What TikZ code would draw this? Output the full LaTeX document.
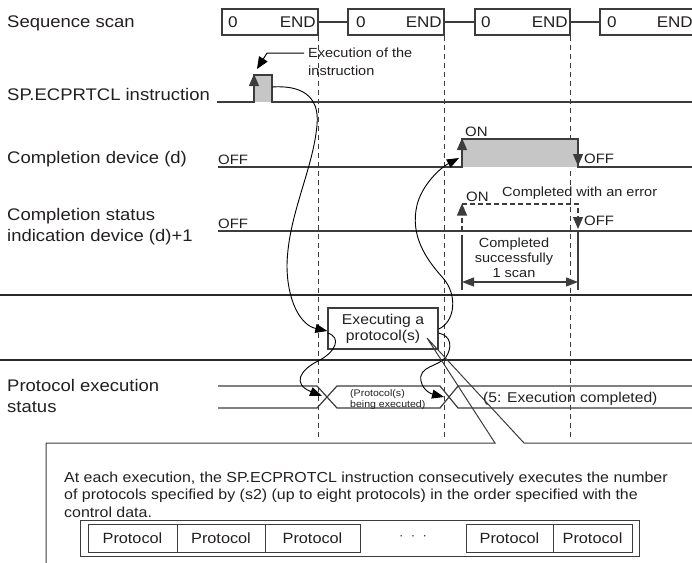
\documentclass[tikz,border=0pt]{standalone}
\usepackage{fontspec}
\setmainfont{Liberation Sans}[FakeStretch=1.1]
\usetikzlibrary{arrows.meta}
\definecolor{txt}{HTML}{231F20}
\definecolor{lin}{HTML}{3C3C3C}
\definecolor{sepc}{HTML}{2A2A2A}
\definecolor{pulsec}{HTML}{C6C6C6}
\begin{document}
\begin{tikzpicture}[x=1pt,y=-1pt,
  biglab/.style={font=\fontsize{16.8}{21}\selectfont, inner sep=0pt, anchor=base west, align=left, text=txt},
  scantxt/.style={font=\fontsize{15.5}{18}\selectfont, inner sep=0pt, text=txt},
  midlab/.style={font=\fontsize{13.6}{16}\selectfont, inner sep=0pt, anchor=base west, text=txt},
  sig/.style={draw=lin, line width=1.2pt},
  sepline/.style={draw=sepc, line width=2.6pt},
  vdash/.style={draw=lin, line width=0.9pt, dash pattern=on 5pt off 4pt},
  pdash/.style={draw=lin, line width=1.1pt, dash pattern=on 5pt off 3pt},
  scanbox/.style={draw=lin, line width=1.2pt, minimum height=26pt, inner sep=0pt},
  tipup/.style={-{Triangle[length=12pt,width=10pt]}},
  flow/.style={draw=black, line width=0.9pt, -{Triangle[length=12pt,width=9pt]}},
  cellbox/.style={draw=lin, line width=0.9pt, minimum height=28pt, inner sep=0pt, font=\fontsize{14.8}{17}\selectfont, text=txt},
]
\useasboundingbox (0,0) rectangle (692,562);
\clip (0,0) rectangle (692,562);

% ---- left labels (base = baseline of the last line)
\node[biglab] (lseq) at (7,27) {Sequence scan};
\node[biglab] (lsp) at (7,100) {SP.ECPRTCL instruction};
\node[biglab] (lcd) at (7,163) {Completion device (d)};
\node[biglab] (lcs) at (7,241) {Completion status\\indication device (d)+1};
\node[biglab] (lpe) at (7,412) {Protocol execution\\status};

% ---- sequence scan boxes
\node[scanbox, minimum width=96pt] (s1) at (270,22) {};
\node[scanbox, minimum width=96pt] (s2) at (396,22) {};
\node[scanbox, minimum width=95pt] (s3) at (522.5,22) {};
\node[scanbox, minimum width=100pt] (s4) at (650,22) {};
\node[scantxt, anchor=base west] (s1z) at (228,27.5) {0};
\node[scantxt, anchor=base east] (s1e) at (316,27.5) {END};
\node[scantxt, anchor=base west] (s2z) at (356,27.5) {0};
\node[scantxt, anchor=base east] (s2e) at (442,27.5) {END};
\node[scantxt, anchor=base west] (s3z) at (481,27.5) {0};
\node[scantxt, anchor=base east] (s3e) at (568,27.5) {END};
\node[scantxt, anchor=base west] (s4z) at (607,27.5) {0};
\node[scantxt, anchor=base east] (s4e) at (693,27.5) {END};
\draw[sig] (s1.east) -- (s2.west);
\draw[sig] (s2.east) -- (s3.west);
\draw[sig] (s3.east) -- (s4.west);

% ---- dashed scan boundaries
\coordinate (dend) at (0,438);
\draw[vdash] (s1.south east) -- (s1.south east |- dend);
\draw[vdash] (s2.south east) -- (s2.south east |- dend);
\draw[vdash] (s3.south east) -- (s3.south east |- dend);

% ---- SP.ECPRTCL instruction
\coordinate (p0) at (217,102);
\coordinate (p1) at (254,102);
\coordinate (p2) at (254,75);
\coordinate (p3) at (272,75);
\coordinate (p4) at (272,102);
\coordinate (p5) at (692,102);
\fill[pulsec] (p1) rectangle (p3);
\draw[sig] (p0) -- (p1) -- (p2) -- (p3) -- (p4) -- (p5);
\draw[sig, tipup] (p1) -- ([yshift=1pt]p2);
\node[midlab, align=left, font=\fontsize{13.2}{18}\selectfont] (exlab) at (308,75) {Execution of the\\instruction};
\coordinate (ex1) at (304,53);
\coordinate (ex2) at (267,53);
\coordinate (ex3) at (257,69);
\draw[draw=black, line width=1pt, -{Triangle[length=12pt,width=10pt]}] (ex1) -- (ex2) -- (ex3);

% ---- Completion device
\coordinate (c0) at (218,167);
\coordinate (c1) at (462,167);
\coordinate (c2) at (462,139);
\coordinate (c3) at (578,139);
\coordinate (c4) at (578,167);
\coordinate (c5) at (692,167);
\fill[pulsec] (c1) rectangle (c3);
\draw[sig] (c0) -- (c1) -- (c2) -- (c3) -- (c4) -- (c5);
\draw[sig, tipup] (c1) -- ([yshift=1pt]c2);
\draw[sig, tipup] (c3) -- ([yshift=1pt]c4);
\node[midlab] (off1) at (218,164.5) {OFF};
\node[midlab] (on1) at (465,136) {ON};
\node[midlab] (off1r) at (584,163) {OFF};

% ---- Completion status indication device
\coordinate (e0) at (218,231);
\coordinate (e5) at (692,231);
\draw[sig] (e0) -- (e5);
\coordinate (e1) at (462,231);
\coordinate (e2) at (462,203.5);
\coordinate (e3) at (578,204);
\coordinate (e4) at (578,229);
\draw[pdash, tipup] (e1) -- (e2);
\draw[pdash, tipup] (462,204) -- (e3) -- (e4);
\node[midlab] (off2) at (218,228) {OFF};
\node[midlab] (on2) at (466,201) {ON};
\node[midlab] (off2r) at (584,225) {OFF};
\node[midlab, font=\fontsize{13.2}{16}\selectfont] (err) at (502,196) {Completed with an error};

% ---- 1 scan
\coordinate (k1) at (462,235);
\coordinate (k2) at (462,290);
\coordinate (k3) at (578,232);
\coordinate (k4) at (578,290);
\draw[sig] (k1) -- (k2);
\draw[sig] (k3) -- (k4);
\draw[sig, {Triangle[length=12pt,width=9pt]}-{Triangle[length=12pt,width=9pt]}] (k2 |- 0,282) -- (k4 |- 0,282);
\node[midlab, anchor=base, align=center, font=\fontsize{13.2}{15}\selectfont] (okl) at (514,277) {Completed\\successfully\\1 scan};

% ---- separators
\draw[sepline] (0,295) -- (692,295);
\draw[sepline] (0,360) -- (692,360);

% ---- executing box
\node[draw=lin, line width=1.3pt, minimum width=110pt, minimum height=41pt, inner sep=0pt, align=center,
      font=\fontsize{14.3}{16}\selectfont, text=txt] (exec) at (383,328.5) {Executing a\\protocol(s)};

% ---- protocol execution status
\draw[sig] (218,386) -- (317,386) -- (337,408) -- (440,408) -- (458,386) -- (692,386);
\draw[sig] (218,408) -- (317,408) -- (337,386) -- (440,386) -- (458,408) -- (692,408);
\node[midlab, align=left, font=\fontsize{9.6}{10.5}\selectfont] (pbe) at (350,407) {(Protocol(s)\\being executed)};
\node[midlab, font=\fontsize{14.2}{16}\selectfont] (done) at (483,402) {(5: Execution completed)};

% ---- flow curves
\coordinate (xl) at (322,396);
\coordinate (xr) at (444,397);
\coordinate (cd) at (459,158);
\draw[flow] (p4 |- 0,87) .. controls (300,85) and (320,95) .. (317,125)
  .. controls (313,170) and (288,215) .. (287,265)
  .. controls (287,300) and (300,325) .. (exec.west |- 0,331);
\draw[flow] (exec.west |- 0,333) .. controls (342,337) and (336,352) .. (318,361)
  .. controls (300,370) and (292,384) .. (xl);
\draw[flow] (exec.east |- 0,329) .. controls (455,322) and (458,295) .. (443,278)
  .. controls (425,258) and (410,235) .. (417,205)
  .. controls (422,185) and (440,168) .. (cd);
\draw[flow] (exec.east |- 0,333) .. controls (452,336) and (452,348) .. (446,357)
  .. controls (438,367) and (418,366) .. (421,381)
  .. controls (423,391) and (432,394) .. (xr);

% ---- callout
\coordinate (ctip) at (427,338);
\draw[draw=lin, line width=1pt] (46,575) -- (46,443) -- (495,443) -- (ctip) -- (524,443) -- (700,443);
\node[midlab, align=left, font=\fontsize{14.5}{17.5}\selectfont] (ctx) at (64,517)
  {At each execution, the SP.ECPROTCL instruction consecutively executes the number\\of protocols specified by (s2) (up to eight protocols) in the order specified with the\\control data.};

% ---- protocol cells
\draw[draw=lin, line width=0.8pt] (80,520) rectangle (639,556);
\node[cellbox, minimum width=89pt] (q1) at (132.5,538) {Protocol};
\node[cellbox, minimum width=88pt] (q2) at (221,538) {Protocol};
\node[cellbox, minimum width=95pt] (q3) at (312.5,538) {Protocol};
\node[inner sep=0pt, font=\fontsize{12}{14}\selectfont, text=txt] (qd) at (413,538) {·\ \ ·\ \ ·};
\node[cellbox, minimum width=87pt] (q4) at (509.5,538) {Protocol};
\node[cellbox, minimum width=79pt] (q5) at (592.5,538) {Protocol};
\end{tikzpicture}
\end{document}
